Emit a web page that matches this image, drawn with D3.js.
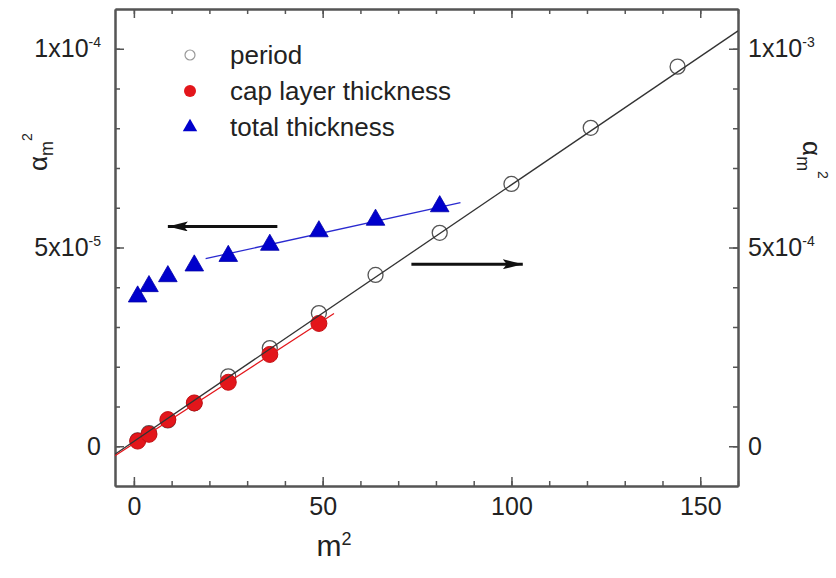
<!DOCTYPE html>
<html>
<head>
<meta charset="utf-8">
<script src="https://cdn.jsdelivr.net/npm/d3@7"></script>
<style>
  body { margin: 0; background: #fff; }
  text { font-family: "Liberation Sans", Arial, sans-serif; fill: #222; }
</style>
</head>
<body>
<div id="chart"></div>
<script>
const W = 836, H = 578;
const margin = { top: 9, right: 98, bottom: 92, left: 115 };
const width = W - margin.left - margin.right;
const height = H - margin.top - margin.bottom;

// data
const periodM = [1, 4, 9, 16, 25, 36, 49, 64, 81, 100, 121, 144];
const period = [0.015e-3, 0.033e-3, 0.065e-3, 0.108e-3, 0.176e-3, 0.247e-3, 0.335e-3, 0.431e-3, 0.537e-3, 0.66e-3, 0.801e-3, 0.955e-3];
const capM = [1, 4, 9, 16, 25, 36, 49];
const capLayer = [0.13e-5, 0.3e-5, 0.67e-5, 1.09e-5, 1.61e-5, 2.31e-5, 3.09e-5];
const totalM = [1, 4, 9, 16, 25, 36, 49, 64, 81];
const totalThickness = [3.79e-5, 4.05e-5, 4.3e-5, 4.57e-5, 4.81e-5, 5.09e-5, 5.43e-5, 5.72e-5, 6.06e-5];

// linear fits (endpoints)
const periodFit = [[-5, -0.02e-3], [160, 1.045e-3]];
const capFit = [[-5, -0.24e-5], [53, 3.34e-5]];
const totalFit = [[19, 4.72e-5], [86.5, 6.13e-5]];

// annotation arrows: [from, to] in data units
const leftArrow = [[38, 5.53e-5], [9, 5.53e-5]];
const rightArrow = [[73.5, 0.458e-3], [103, 0.458e-3]];

const xTicks = [0, 50, 100, 150];
const xLabels = ["0", "50", "100", "150"];
const leftTicks = [0, 5e-5, 1e-4];
const leftLabels = [["0", ""], ["5x10", "-5"], ["1x10", "-4"]];
const rightTicks = [0, 5e-4, 1e-3];
const rightLabels = [["0", ""], ["5x10", "-4"], ["1x10", "-3"]];

const legendItems = ["period", "cap layer thickness", "total thickness"];

const svg = d3.select("#chart").append("svg").attr("width", W).attr("height", H);
const defs = svg.append("defs");
defs.append("clipPath").attr("id", "clip")
  .append("rect").attr("width", width).attr("height", height);
defs.append("marker").attr("id", "head")
  .attr("viewBox", "0 0 20 10").attr("refX", 20).attr("refY", 5)
  .attr("markerWidth", 20).attr("markerHeight", 10)
  .attr("markerUnits", "userSpaceOnUse").attr("orient", "auto")
  .append("path").attr("d", "M0,0 L20,5 L0,10 L4,5 Z").attr("fill", "#111");

const chart = svg.append("g").attr("transform", `translate(${margin.left},${margin.top})`);

const x = d3.scaleLinear().domain([-5, 160]).range([0, width]);
const yL = d3.scaleLinear().domain([-1e-5, 1.1e-4]).range([height, 0]);
const yR = d3.scaleLinear().domain([-1e-4, 1.1e-3]).range([height, 0]);

const axisColor = "#555";
const fontSize = 25;

function styleAxis(g) {
  g.selectAll(".domain").attr("stroke", axisColor).attr("stroke-width", 2);
  g.selectAll(".tick line").attr("stroke", axisColor).attr("stroke-width", 1.5);
  g.selectAll("text").style("font-size", fontSize + "px").attr("fill", "#222");
}

function supLabels(g, labels, values) {
  g.selectAll(".tick text").each(function (d) {
    const i = values.indexOf(d);
    const t = d3.select(this).text(null);
    t.append("tspan").text(labels[i][0]);
    if (labels[i][1]) {
      t.append("tspan").attr("dy", "-0.75em").style("font-size", "14px").text(labels[i][1]);
    }
  });
}

// minor ticks
const xMinor = d3.range(0, 161, 10);
const yMinorL = d3.range(0, 11).map((i) => i * 1e-5);
const yMinorR = d3.range(0, 11).map((i) => i * 1e-4);

chart.append("g").attr("transform", `translate(0,${height})`)
  .call(d3.axisBottom(x).tickValues(xMinor).tickSizeInner(-5).tickSizeOuter(0).tickFormat(""))
  .call(styleAxis);
chart.append("g").attr("transform", `translate(0,${height})`)
  .call(d3.axisBottom(x).tickValues(xTicks).tickSizeInner(-9).tickSizeOuter(0).tickPadding(11)
    .tickFormat((d) => xLabels[xTicks.indexOf(d)]))
  .call(styleAxis);

chart.append("g")
  .call(d3.axisTop(x).tickValues(xMinor).tickSizeInner(-5).tickSizeOuter(0).tickFormat(""))
  .call(styleAxis);
chart.append("g")
  .call(d3.axisTop(x).tickValues(xTicks).tickSizeInner(-9).tickSizeOuter(0).tickFormat(""))
  .call(styleAxis);

chart.append("g")
  .call(d3.axisLeft(yL).tickValues(yMinorL).tickSizeInner(-5).tickSizeOuter(0).tickFormat(""))
  .call(styleAxis);
chart.append("g")
  .call(d3.axisLeft(yL).tickValues(leftTicks).tickSizeInner(-9).tickSizeOuter(0).tickPadding(14))
  .call(styleAxis)
  .call((g) => supLabels(g, leftLabels, leftTicks));

chart.append("g").attr("transform", `translate(${width},0)`)
  .call(d3.axisRight(yR).tickValues(yMinorR).tickSizeInner(-5).tickSizeOuter(0).tickFormat(""))
  .call(styleAxis);
chart.append("g").attr("transform", `translate(${width},0)`)
  .call(d3.axisRight(yR).tickValues(rightTicks).tickSizeInner(-9).tickSizeOuter(0).tickPadding(10))
  .call(styleAxis)
  .call((g) => supLabels(g, rightLabels, rightTicks));

// axis titles
const xTitle = svg.append("text")
  .attr("x", margin.left + x(53)).attr("y", 556)
  .attr("text-anchor", "middle").style("font-size", "30px");
xTitle.append("tspan").text("m");
xTitle.append("tspan").attr("dy", "-0.6em").style("font-size", "18px").text("2");

function alphaTitle(sel) {
  sel.append("tspan").text("\u03b1");
  sel.append("tspan").attr("dy", "0.35em").style("font-size", "18px").text("m");
  sel.append("tspan").attr("dy", "-1.5em").style("font-size", "14px").text("2");
}
svg.append("text")
  .attr("transform", "translate(47,152) rotate(-90)")
  .attr("text-anchor", "middle").style("font-size", "26px")
  .call(alphaTitle);
svg.append("text")
  .attr("transform", "translate(803,160) rotate(90)")
  .attr("text-anchor", "middle").style("font-size", "26px")
  .call(alphaTitle);

const plot = chart.append("g").attr("clip-path", "url(#clip)");

const lineL = d3.line().x((d) => x(d[0])).y((d) => yL(d[1]));
const lineR = d3.line().x((d) => x(d[0])).y((d) => yR(d[1]));

// period circles (right axis)
plot.selectAll(".period").data(periodM).enter().append("circle")
  .attr("class", "period")
  .attr("cx", (d) => x(d))
  .attr("cy", (d, i) => yR(period[i]))
  .attr("r", 7.5)
  .attr("fill", "none")
  .attr("stroke", "#555")
  .attr("stroke-width", 1.3);

// cap layer red dots (left axis)
plot.selectAll(".cap").data(capM).enter().append("circle")
  .attr("class", "cap")
  .attr("cx", (d) => x(d))
  .attr("cy", (d, i) => yL(capLayer[i]))
  .attr("r", 8)
  .attr("fill", "#e3161b")
  .attr("stroke", "#c40f12")
  .attr("stroke-width", 1);

plot.append("path").datum(periodFit).attr("d", lineR)
  .attr("fill", "none").attr("stroke", "#333").attr("stroke-width", 1.3);
plot.append("path").datum(capFit).attr("d", lineL)
  .attr("fill", "none").attr("stroke", "#e3161b").attr("stroke-width", 1.2);
plot.append("path").datum(totalFit).attr("d", lineL)
  .attr("fill", "none").attr("stroke", "#2a2ad0").attr("stroke-width", 1.3);

const tri = d3.symbol().type(d3.symbolTriangle).size(150);
plot.selectAll(".total").data(totalM).enter().append("path")
  .attr("class", "total")
  .attr("d", tri)
  .attr("transform", (d, i) => `translate(${x(d)},${yL(totalThickness[i]) + 1})`)
  .attr("fill", "#0000cc")
  .attr("stroke", "#0000aa")
  .attr("stroke-width", 0.8);

// arrows
plot.append("path").datum(leftArrow).attr("d", lineL)
  .attr("stroke", "#111").attr("stroke-width", 3).attr("fill", "none")
  .attr("marker-end", "url(#head)");
plot.append("path").datum(rightArrow).attr("d", lineR)
  .attr("stroke", "#111").attr("stroke-width", 3).attr("fill", "none")
  .attr("marker-end", "url(#head)");

// legend
const legend = svg.append("g").attr("transform", "translate(190,55)");
const rowGap = 36;
legend.append("circle").attr("cx", 0).attr("cy", 0).attr("r", 5)
  .attr("fill", "none").attr("stroke", "#999").attr("stroke-width", 1.2);
legend.append("circle").attr("cx", 0).attr("cy", rowGap).attr("r", 6)
  .attr("fill", "#e3161b");
legend.append("path").attr("d", d3.symbol().type(d3.symbolTriangle).size(90))
  .attr("transform", `translate(0,${rowGap * 2})`).attr("fill", "#0000cc");
legend.selectAll(".ltext").data(legendItems).enter().append("text")
  .attr("class", "ltext")
  .attr("x", 40)
  .attr("y", (d, i) => i * rowGap)
  .attr("dy", "0.35em")
  .style("font-size", "26px")
  .text((d) => d);
</script>
</body>
</html>
